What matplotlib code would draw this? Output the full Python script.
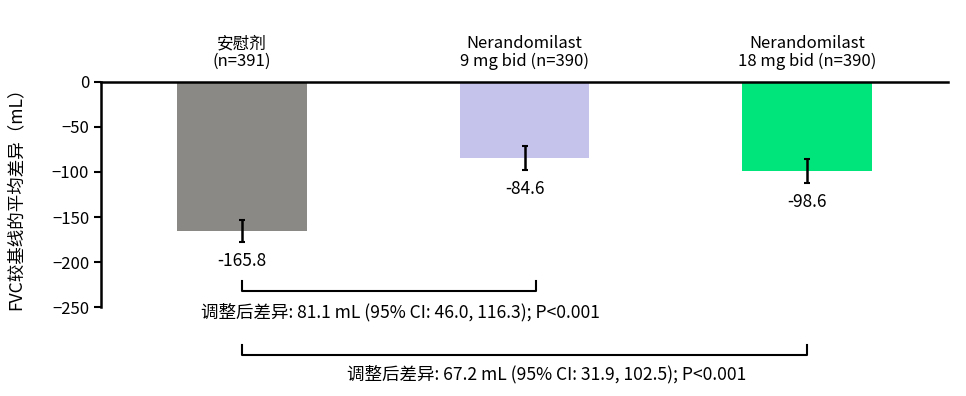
import numpy as np
import matplotlib.pyplot as plt

plt.rcParams['font.family'] = ['Noto Sans CJK SC', 'DejaVu Sans']
plt.rcParams['font.size'] = 12

groups = ['安慰剂\n(n=391)', 'Nerandomilast\n9 mg bid (n=390)', 'Nerandomilast\n18 mg bid (n=390)']
means = [-165.8, -84.6, -98.6]
errors = [12.3, 13.3, 13.3]
value_labels = ['-165.8', '-84.6', '-98.6']
bar_colors = ['#8a8985', '#c5c3ec', '#00e47c']

comparisons = [(0, 1.04, '调整后差异: 81.1 mL (95% CI: 46.0, 116.3); P<0.001'),
               (0, 2, '调整后差异: 67.2 mL (95% CI: 31.9, 102.5); P<0.001')]
bracket_y = [-232, -303]
text_x = [0.56, 1.08]
text_y = [-256, -325]

fig = plt.figure(figsize=(9.66, 3.96), dpi=100)
ax = fig.add_axes([0.1046, 0.2247, 0.8768, 0.5683])

x = np.arange(len(groups))
ax.bar(x, means, width=0.46, color=bar_colors, zorder=2)
ax.errorbar(x, means, yerr=errors, fmt='none', ecolor='black', elinewidth=1.8,
            capsize=2.5, capthick=1.5, zorder=3)

for xi, m, e, lab in zip(x, means, errors, value_labels):
    ax.text(xi, m - e - 11, lab, ha='center', va='top', fontsize=12.5)

# group names above the zero line
for xi, g in zip(x, groups):
    ax.text(xi, 13, g, ha='center', va='bottom', fontsize=12, linespacing=1.1)

for (x0, x1, txt), by, tx, ty in zip(comparisons, bracket_y, text_x, text_y):
    ax.plot([x0, x0, x1, x1], [by + 11, by, by, by + 11], color='black',
            linewidth=1.5, clip_on=False)
    ax.text(tx, ty, txt, ha='center', va='center', fontsize=12.6)

ax.set_xlim(-0.5, 2.5)
ax.set_ylim(-250, 0)
ax.set_yticks(np.arange(-250, 1, 50))
ax.set_xticks([])
ax.set_ylabel('FVC较基线的平均差异（mL）', fontsize=12.6, labelpad=20)

ax.spines['right'].set_visible(False)
ax.spines['bottom'].set_visible(False)
ax.spines['left'].set_linewidth(1.8)
ax.spines['top'].set_linewidth(1.8)
ax.tick_params(axis='y', length=5, width=1.5, labelsize=12)

fig.savefig('out.png', dpi=100)
